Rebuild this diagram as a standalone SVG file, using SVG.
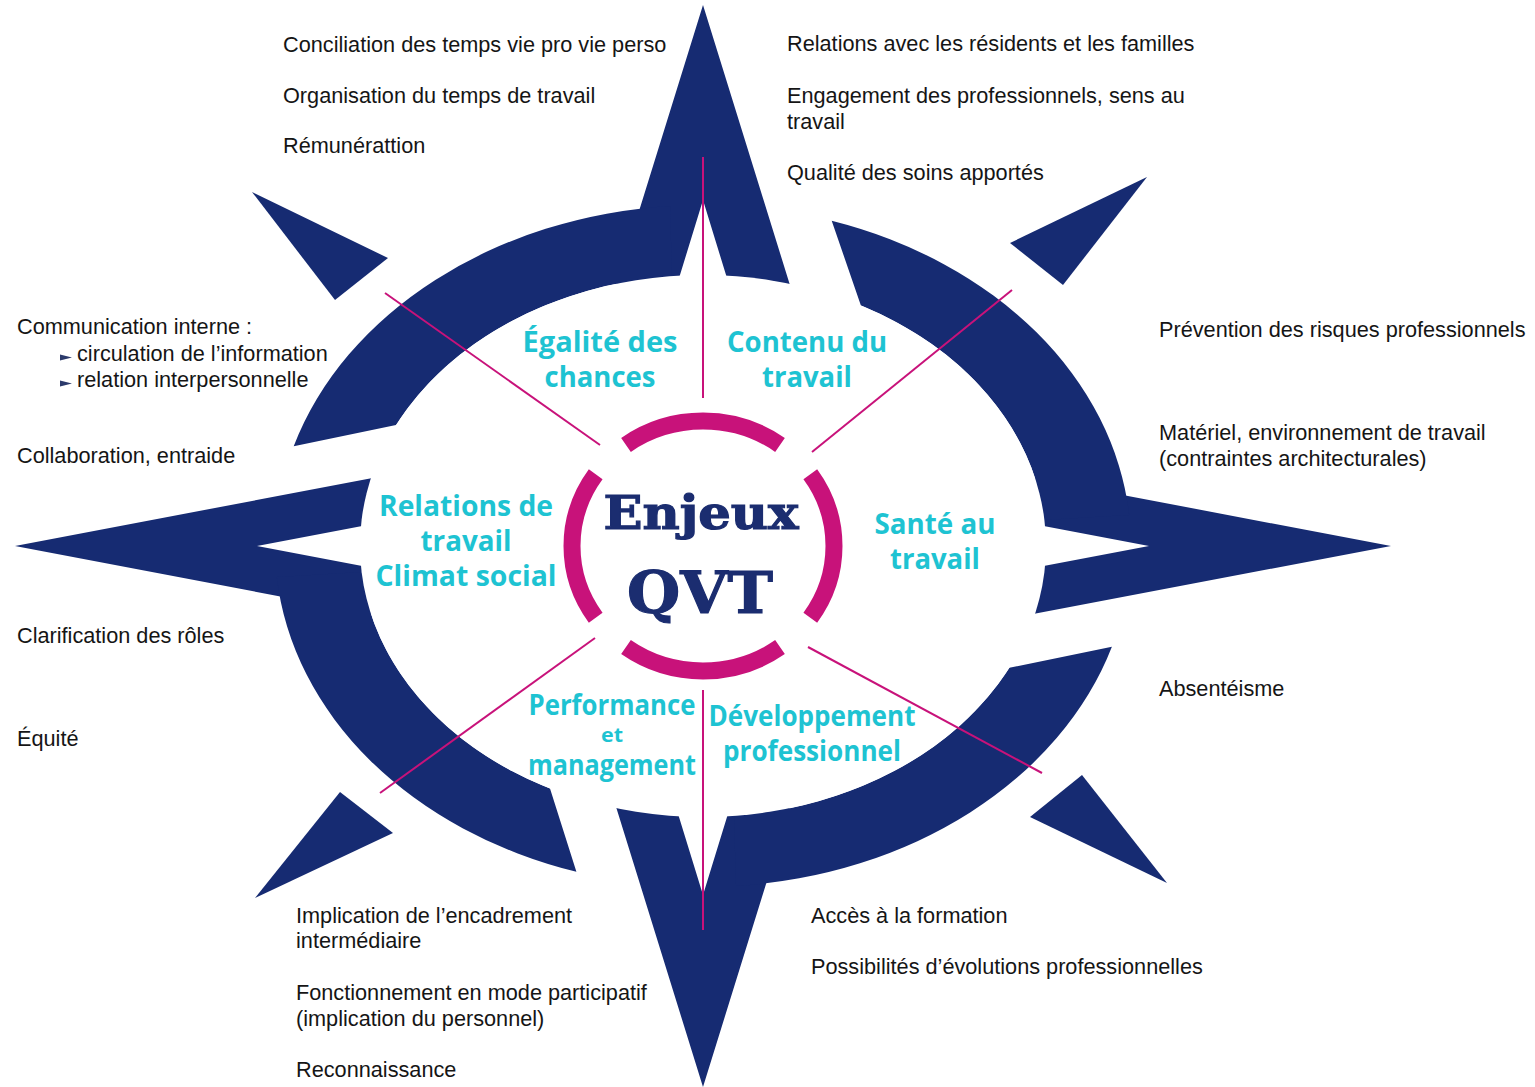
<svg xmlns="http://www.w3.org/2000/svg" width="1535" height="1087" viewBox="0 0 1535 1087">
  <style>
    .navy { fill: #162b72; }
    .divider { stroke: #c8127a; stroke-width: 2; fill: none; }
    .ring { stroke: #c8127a; stroke-width: 17; fill: none; stroke-linecap: butt; }
    .theme { font-family: "Open Sans", "Noto Sans", sans-serif; font-weight: 700; font-size: 29px; fill: #1ec3d2; text-anchor: middle; }
    .theme.small { font-size: 19px; }
    .item { font-family: "Liberation Sans", Arial, sans-serif; font-size: 21.7px; fill: #151515; }
    .title { font-family: "DejaVu Serif", "Liberation Serif", serif; font-weight: 700; fill: #1b2d70; stroke: #1b2d70; stroke-width: 1.2; text-anchor: middle; }
  </style>
  <defs>
    <!-- hollow centre of the compass ring -->
    <mask id="ringHole" maskUnits="userSpaceOnUse" x="0" y="0" width="1535" height="1087">
      <rect x="0" y="0" width="1535" height="1087" fill="#fff"/>
      <ellipse cx="703" cy="546" rx="343" ry="271" fill="#000"/>
    </mask>
  </defs>

  <rect width="1535" height="1087" fill="#fff"/>

  <!-- compass rose: cardinal points and ring quarters -->
  <g id="compass" class="navy" mask="url(#ringHole)">
    <polygon id="point-n" points="703,5 807,340 746,340 703,200 660,340 599,340"/>
    <polygon id="point-s" points="703,1087 807,752 747,752 703,895 659,752 599,752"/>
    <polygon id="point-w" points="15,546 420,469 420,515 257,546 420,577 420,623"/>
    <polygon id="point-e" points="1391,546 986,469 986,515 1149,546 986,577 986,623"/>
    <path id="arc-nw" d="M670,206 A428 341 0 0 0 293.7,446.3 L396,425.1 A343 271 0 0 1 672,276.1 Z"/>
    <path id="arc-ne" d="M1129.2,515 A428 341 0 0 0 831.7,220.8 L860.9,305.4 A343 271 0 0 1 1044.4,520 Z"/>
    <path id="arc-se" d="M736,886 A428 341 0 0 0 1111.9,646.8 L1009.4,667.8 A343 271 0 0 1 734,815.9 Z"/>
    <path id="arc-sw" d="M276.8,577 A428 341 0 0 0 576.4,871.8 L550,788.5 A343 271 0 0 1 361.6,572 Z"/>
  </g>

  <!-- small diagonal points -->
  <g id="diagonals" class="navy">
    <polygon points="252,192 388,258 335,300"/>
    <polygon points="1147,177 1010,243 1063,285"/>
    <polygon points="1082,775 1030,817 1167,883"/>
    <polygon points="340,792 393,833 255,898"/>
  </g>

  <!-- dividing lines between the six themes -->
  <g id="connectors" class="divider">
    <line x1="703" y1="157" x2="703" y2="398"/>
    <line x1="703" y1="690" x2="703" y2="930"/>
    <line x1="385" y1="293" x2="600" y2="445"/>
    <line x1="1012" y1="290" x2="812" y2="452"/>
    <line x1="595" y1="638" x2="380" y2="793"/>
    <line x1="808" y1="647" x2="1042" y2="773"/>
  </g>

  <!-- centre badge -->
  <g id="centre">
    <g class="ring">
      <path d="M626,444.9 A131 125 0 0 1 780,444.9"/>
      <path d="M810.3,474.3 A131 125 0 0 1 810.3,617.7"/>
      <path d="M780,647.1 A131 125 0 0 1 626,647.1"/>
      <path d="M595.7,617.7 A131 125 0 0 1 595.7,474.3"/>
    </g>
    <text class="title" x="701" y="529" font-size="46" textLength="195" lengthAdjust="spacingAndGlyphs">Enjeux</text>
    <text class="title" x="700" y="613" font-size="58" textLength="146" lengthAdjust="spacingAndGlyphs">QVT</text>
  </g>

  <!-- the six themes -->
  <g id="theme-egalite">
    <text class="theme" x="600" y="352" textLength="155" lengthAdjust="spacingAndGlyphs">Égalité des</text>
    <text class="theme" x="600" y="387" textLength="111" lengthAdjust="spacingAndGlyphs">chances</text>
  </g>
  <g id="theme-contenu">
    <text class="theme" x="807" y="352" textLength="160" lengthAdjust="spacingAndGlyphs">Contenu du</text>
    <text class="theme" x="807" y="387" textLength="90" lengthAdjust="spacingAndGlyphs">travail</text>
  </g>
  <g id="theme-relations">
    <text class="theme" x="466" y="516" textLength="174" lengthAdjust="spacingAndGlyphs">Relations de</text>
    <text class="theme" x="466" y="551" textLength="91" lengthAdjust="spacingAndGlyphs">travail</text>
    <text class="theme" x="466" y="586" textLength="181" lengthAdjust="spacingAndGlyphs">Climat social</text>
  </g>
  <g id="theme-sante">
    <text class="theme" x="935" y="534" textLength="121" lengthAdjust="spacingAndGlyphs">Santé au</text>
    <text class="theme" x="935" y="569" textLength="90" lengthAdjust="spacingAndGlyphs">travail</text>
  </g>
  <g id="theme-performance">
    <text class="theme" x="612" y="715" textLength="167" lengthAdjust="spacingAndGlyphs">Performance</text>
    <text class="theme small" x="612" y="742" textLength="22" lengthAdjust="spacingAndGlyphs">et</text>
    <text class="theme" x="612" y="775" textLength="168" lengthAdjust="spacingAndGlyphs">management</text>
  </g>
  <g id="theme-developpement">
    <text class="theme" x="812" y="726" textLength="207" lengthAdjust="spacingAndGlyphs">Développement</text>
    <text class="theme" x="812" y="761" textLength="178" lengthAdjust="spacingAndGlyphs">professionnel</text>
  </g>

  <!-- factor lists around the rose -->
  <g id="list-top-left" class="item">
    <text x="283" y="52">Conciliation des temps vie pro vie perso</text>
    <text x="283" y="103">Organisation du temps de travail</text>
    <text x="283" y="153">Rémunérattion</text>
  </g>
  <g id="list-top-right" class="item">
    <text x="787" y="51">Relations avec les résidents et les familles</text>
    <text x="787" y="103">Engagement des professionnels, sens au</text>
    <text x="787" y="129">travail</text>
    <text x="787" y="180">Qualité des soins apportés</text>
  </g>
  <g id="list-left" class="item">
    <text x="17" y="334">Communication interne :</text>
    <polygon points="60,354.5 72,357.5 60,360.5" fill="#2b3a6b"/>
    <text x="77" y="361">circulation de l’information</text>
    <polygon points="60,380.5 72,383.5 60,386.5" fill="#2b3a6b"/>
    <text x="77" y="387">relation interpersonnelle</text>
    <text x="17" y="463">Collaboration, entraide</text>
    <text x="17" y="643">Clarification des rôles</text>
    <text x="17" y="746">Équité</text>
  </g>
  <g id="list-right" class="item">
    <text x="1159" y="337">Prévention des risques professionnels</text>
    <text x="1159" y="440">Matériel, environnement de travail</text>
    <text x="1159" y="466">(contraintes architecturales)</text>
    <text x="1159" y="696">Absentéisme</text>
  </g>
  <g id="list-bottom-left" class="item">
    <text x="296" y="923">Implication de l’encadrement</text>
    <text x="296" y="948">intermédiaire</text>
    <text x="296" y="1000">Fonctionnement en mode participatif</text>
    <text x="296" y="1026">(implication du personnel)</text>
    <text x="296" y="1077">Reconnaissance</text>
  </g>
  <g id="list-bottom-right" class="item">
    <text x="811" y="923">Accès à la formation</text>
    <text x="811" y="974">Possibilités d’évolutions professionnelles</text>
  </g>
</svg>
